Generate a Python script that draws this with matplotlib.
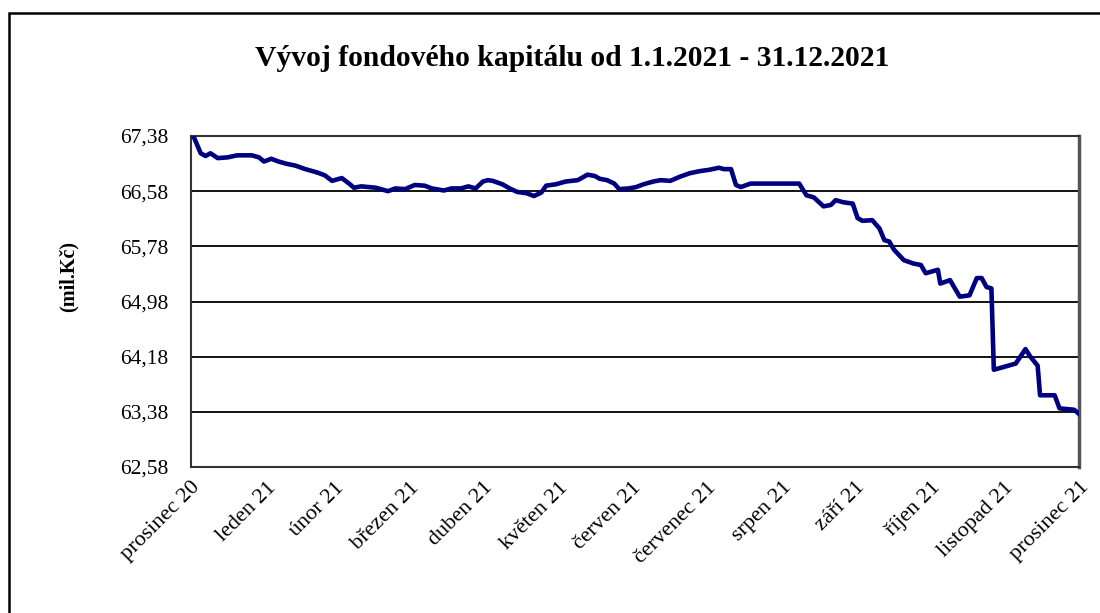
import pandas as pd
import matplotlib
matplotlib.use("Agg")
import matplotlib.pyplot as plt
from matplotlib.patches import Rectangle

# ── Data ──────────────────────────────────────────────────
START = pd.Timestamp("2020-12-31")

days = [1, 4, 6, 8, 11, 15, 19, 25, 28, 30, 33, 36, 39, 43, 47, 52, 55, 58,
        62, 65, 67, 70, 76, 81, 84, 88, 92, 96, 99, 104, 107, 111, 114, 117,
        120, 122, 124, 128, 131, 134, 138, 141, 144, 146, 150, 154, 159, 163,
        166, 168, 171, 174, 176, 180, 183, 186, 190, 193, 197, 201, 205, 209,
        213, 217, 219, 222, 224, 226, 230, 242, 250, 253, 256, 260, 263, 265,
        268, 272, 274, 276, 280, 283, 285, 287, 289, 293, 297, 300, 302, 307,
        308, 312, 316, 320, 323, 325, 327, 329, 330, 335, 339, 343, 345, 348,
        349, 355, 357, 363, 365]

capital = [67.38, 67.13, 67.09, 67.13, 67.06, 67.07, 67.10, 67.10, 67.07, 67.01,
           67.05, 67.01, 66.98, 66.95, 66.90, 66.85, 66.81, 66.73, 66.77, 66.69,
           66.63, 66.65, 66.63, 66.58, 66.62, 66.61, 66.67, 66.66, 66.62, 66.59,
           66.62, 66.62, 66.65, 66.62, 66.72, 66.74, 66.73, 66.68, 66.62, 66.57,
           66.55, 66.51, 66.56, 66.66, 66.68, 66.72, 66.74, 66.82, 66.80, 66.76,
           66.74, 66.69, 66.61, 66.62, 66.64, 66.68, 66.72, 66.74, 66.73, 66.79,
           66.84, 66.87, 66.89, 66.92, 66.90, 66.90, 66.67, 66.64, 66.69, 66.69,
           66.69, 66.52, 66.49, 66.36, 66.38, 66.45, 66.42, 66.40, 66.19, 66.15,
           66.16, 66.04, 65.87, 65.85, 65.73, 65.58, 65.53, 65.51, 65.39, 65.44,
           65.24, 65.29, 65.05, 65.07, 65.32, 65.32, 65.19, 65.17, 63.99, 64.04,
           64.08, 64.29, 64.18, 64.05, 63.62, 63.62, 63.43, 63.41, 63.35]

month_labels = ["prosinec 20", "leden 21", "únor 21", "březen 21", "duben 21",
                "květen 21", "červen 21", "červenec 21", "srpen 21", "září 21",
                "říjen 21", "listopad 21", "prosinec 21"]

y_ticks = [62.58, 63.38, 64.18, 64.98, 65.78, 66.58, 67.38]
y_tick_labels = ["62,58", "63,38", "64,18", "64,98", "65,78", "66,58", "67,38"]

dates = START + pd.to_timedelta(days, unit="D")
month_ends = pd.date_range("2020-12-31", "2021-12-31", freq="ME")

# ── Plot ─────────────────────────────────────────────────
plt.rcParams["font.family"] = ["Liberation Serif", "DejaVu Serif"]

fig = plt.figure(figsize=(11, 6.13), dpi=100)
fig.patch.set_facecolor("white")
ax = fig.add_axes([0.1736, 0.2382, 0.8073, 0.5399])

ax.plot(dates, capital, color="#000080", linewidth=3.3, solid_joinstyle="round",
        zorder=3)

ax.set_xlim(month_ends[0], month_ends[-1])
ax.set_ylim(y_ticks[0], y_ticks[-1])

ax.set_yticks(y_ticks)
ax.set_yticklabels(y_tick_labels)
ax.set_xticks(month_ends)
ax.set_xticklabels(month_labels, rotation=45, ha="right", rotation_mode="anchor")

ax.tick_params(axis="y", length=0, pad=16, labelsize=15.5, colors="black")
ax.tick_params(axis="x", length=0, pad=8, labelsize=16, colors="black")

ax.yaxis.grid(True, color="black", linewidth=1.3, zorder=1)
ax.set_axisbelow(True)

for spine in ax.spines.values():
    spine.set_color("#333333")
    spine.set_linewidth(1.5)
ax.spines["right"].set_color("#555555")
ax.spines["right"].set_linewidth(2.5)

ax.set_ylabel("(mil.Kč)", fontsize=14.5, fontweight="bold")
ax.yaxis.set_label_coords(-0.126, 0.575)

# ── Title ─────────────────────────────────────────────────
fig.text(0.52, 0.905, "Vývoj fondového kapitálu od 1.1.2021 - 31.12.2021",
         ha="center", va="center", fontsize=21.3, fontweight="bold")

# ── Outer frame (runs off the right and bottom edge) ─────
fig.patches.append(Rectangle((9 / 1100, -0.2), 1.2, 1.2 - 13 / 613,
                             transform=fig.transFigure, fill=False,
                             edgecolor="black", linewidth=1.8))

fig.savefig("out.png", dpi=100, facecolor=fig.get_facecolor())
